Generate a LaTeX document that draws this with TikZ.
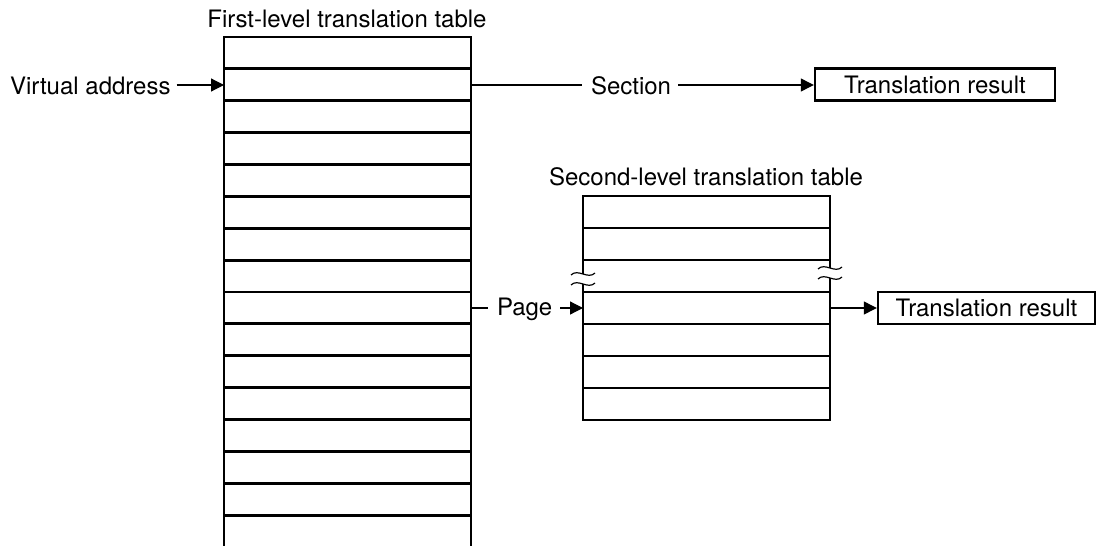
\documentclass[tikz,border=0pt]{standalone}
\usepackage{fontspec}
\setmainfont{TeX Gyre Heros}
\usetikzlibrary{arrows.meta}
\begin{document}
\begin{tikzpicture}[x=1pt,y=-1pt,
  tbl/.style={line width=2.9pt, line join=miter},
  conn/.style={line width=1.2pt},
  arr/.style={conn,-{Triangle[length=13pt,width=13pt]}},
  brk/.style={line width=1.2pt},
  lbl/.style={font=\fontsize{24}{28}\selectfont, inner sep=0pt, outer sep=0pt},
  res/.style={draw, line width=2.4pt, font=\fontsize{24}{28}\selectfont, inner sep=0pt, minimum height=32pt}]
\useasboundingbox (0,0) rectangle (1104,546);

% first-level table
\draw[tbl] (224,546) -- (224,37) -- (471,37) -- (471,546);
\foreach \k in {1,...,15} \draw[tbl] (224,{37+31.87*\k}) -- (471,{37+31.87*\k});
\coordinate (t1r1w) at (224,85);
\coordinate (t1r1e) at (471,85);
\coordinate (t1r8e) at (471,308);
\node[lbl] (t1lbl) at (347,19) {First-level translation table};

% second-level table
\draw[tbl] (583,274) -- (583,196) -- (830,196) -- (830,268);
\draw[tbl] (583,284) -- (583,420) -- (830,420) -- (830,278);
\foreach \yy in {228,260,292,324,356,388} \draw[tbl] (583,\yy) -- (830,\yy);
\foreach \xx/\yy in {583/274,583/284,830/268,830/278}
  \draw[brk] (\xx-12,\yy+1) .. controls (\xx-5,\yy-6) and (\xx+5,\yy+6) .. (\xx+12,\yy-1);
\coordinate (t2r4w) at (583,308);
\coordinate (t2r4e) at (830,308);
\node[lbl] (t2lbl) at (706,177) {Second-level translation table};

% labels and results
\node[lbl, anchor=west] (va) at (10,86) {Virtual address};
\node[lbl, anchor=west] (sec) at (591,86) {Section};
\node[lbl, anchor=west] (page) at (497,309) {Page};
\node[res, minimum width=240pt] (res1) at (935,84.5) {Translation result};
\node[res, minimum width=217pt] (res2) at (986.5,308) {Translation result};

% connectors
\draw[arr] ([xshift=6pt]va.east |- t1r1w) -- (t1r1w);
\draw[conn] (t1r1e) -- ([xshift=-9pt]sec.west |- t1r1e);
\draw[arr] ([xshift=7pt]sec.east |- t1r1e) -- (res1.west |- t1r1e);
\draw[conn] (t1r8e) -- ([xshift=-9pt]page.west |- t1r8e);
\draw[arr] ([xshift=8pt]page.east |- t2r4w) -- (t2r4w);
\draw[arr] (t2r4e) -- (res2.west |- t2r4e);
\end{tikzpicture}
\end{document}
